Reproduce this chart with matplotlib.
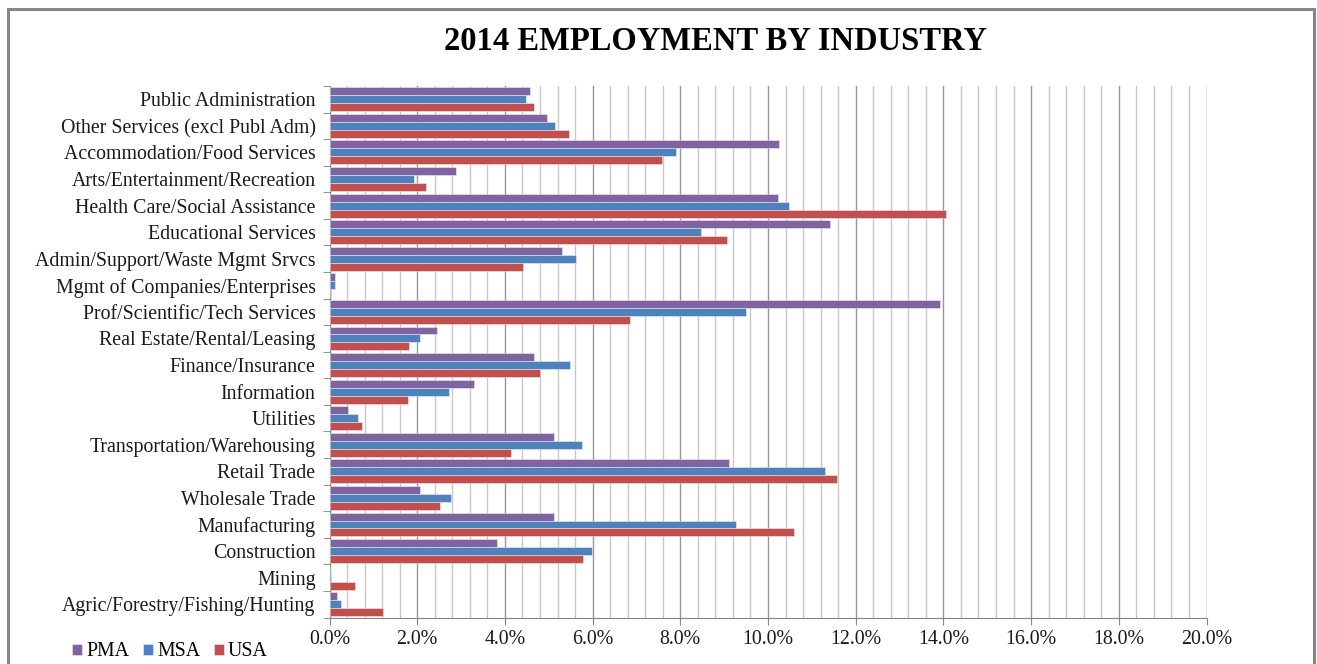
import matplotlib
matplotlib.use("Agg")
import matplotlib.pyplot as plt
import numpy as np
from matplotlib.patches import Rectangle
from matplotlib.ticker import MultipleLocator, FuncFormatter

categories = [
    "Public Administration",
    "Other Services (excl Publ Adm)",
    "Accommodation/Food Services",
    "Arts/Entertainment/Recreation",
    "Health Care/Social Assistance",
    "Educational Services",
    "Admin/Support/Waste Mgmt Srvcs",
    "Mgmt of Companies/Enterprises",
    "Prof/Scientific/Tech Services",
    "Real Estate/Rental/Leasing",
    "Finance/Insurance",
    "Information",
    "Utilities",
    "Transportation/Warehousing",
    "Retail Trade",
    "Wholesale Trade",
    "Manufacturing",
    "Construction",
    "Mining",
    "Agric/Forestry/Fishing/Hunting",
]

pma = [4.58, 4.96, 10.25, 2.89, 10.23, 11.42, 5.31, 0.13, 13.93, 2.46,
       4.67, 3.29, 0.42, 5.11, 9.12, 2.06, 5.12, 3.81, 0.0, 0.17]
msa = [4.49, 5.14, 7.90, 1.93, 10.49, 8.47, 5.62, 0.13, 9.50, 2.06,
       5.48, 2.72, 0.66, 5.75, 11.30, 2.77, 9.26, 5.99, 0.04, 0.26]
usa = [4.67, 5.47, 7.58, 2.19, 14.05, 9.06, 4.41, 0.04, 6.85, 1.82,
       4.80, 1.79, 0.74, 4.13, 11.58, 2.52, 10.59, 5.79, 0.59, 1.23]

series_names = ["PMA", "MSA", "USA"]
colors = ["#8064A2", "#4F81BD", "#C0504D"]

W, H = 1317, 664
fig = plt.figure(figsize=(W / 100, H / 100), dpi=100)
fig.patch.set_facecolor("white")

# outer border
fig.add_artist(Rectangle((8 / W, -0.05), (1314 - 8) / W, (H - 9) / H + 0.05,
                         transform=fig.transFigure, fill=False,
                         edgecolor="#868686", linewidth=2.2))

ax = fig.add_axes([329.5 / W, (H - 617.5) / H, (1206.5 - 329.5) / W, (617.5 - 86) / H])

n = len(categories)
y = np.arange(n)
h = 0.3
for k, (vals, c, name) in enumerate(zip([pma, msa, usa], colors, series_names)):
    ax.barh(y - h + k * h, vals, height=h, color=c, label=name,
            edgecolor=(1, 1, 1, 0.5), linewidth=0.6, zorder=3)

ax.set_ylim(n - 0.5, -0.5)
ax.set_xlim(0, 20)

ax.xaxis.set_major_locator(MultipleLocator(2))
ax.xaxis.set_minor_locator(MultipleLocator(0.4))
ax.xaxis.set_major_formatter(FuncFormatter(lambda v, p: f"{v:.1f}%"))
ax.grid(axis="x", which="minor", color="#c8c8c8", linewidth=1.0, zorder=0)
ax.grid(axis="x", which="major", color="#969696", linewidth=1.0, zorder=0)
ax.tick_params(axis="x", which="minor", length=0)
ax.tick_params(axis="x", which="major", length=5, color="#868686", direction="out", pad=4)

ax.set_yticks(y)
ax.set_yticklabels(categories)
ax.set_yticks(np.arange(n + 1) - 0.5, minor=True)
ax.tick_params(axis="y", which="major", length=0, pad=10)
ax.tick_params(axis="y", which="minor", length=5, color="#868686", direction="out")

for lab in ax.get_yticklabels() + ax.get_xticklabels():
    lab.set_fontfamily("Liberation Serif")
    lab.set_fontsize(14.3)
    lab.set_color("#1a1a1a")

for s in ["top", "right"]:
    ax.spines[s].set_visible(False)
ax.spines["left"].set_color("#868686")
ax.spines["bottom"].set_color("#868686")

fig.text(716 / W, 1 - 41 / H, "2014 EMPLOYMENT BY INDUSTRY", ha="center", va="center",
         fontfamily="Liberation Serif", fontweight="bold", fontsize=23.5)

leg = fig.legend(loc="center", bbox_to_anchor=(170 / W, 1 - 652 / H), ncol=3,
                 frameon=False, prop={"family": "Liberation Serif", "size": 14.3},
                 handlelength=0.5, handleheight=0.5, handletextpad=0.2,
                 columnspacing=0.7)

fig.savefig("out.png", dpi=100)
